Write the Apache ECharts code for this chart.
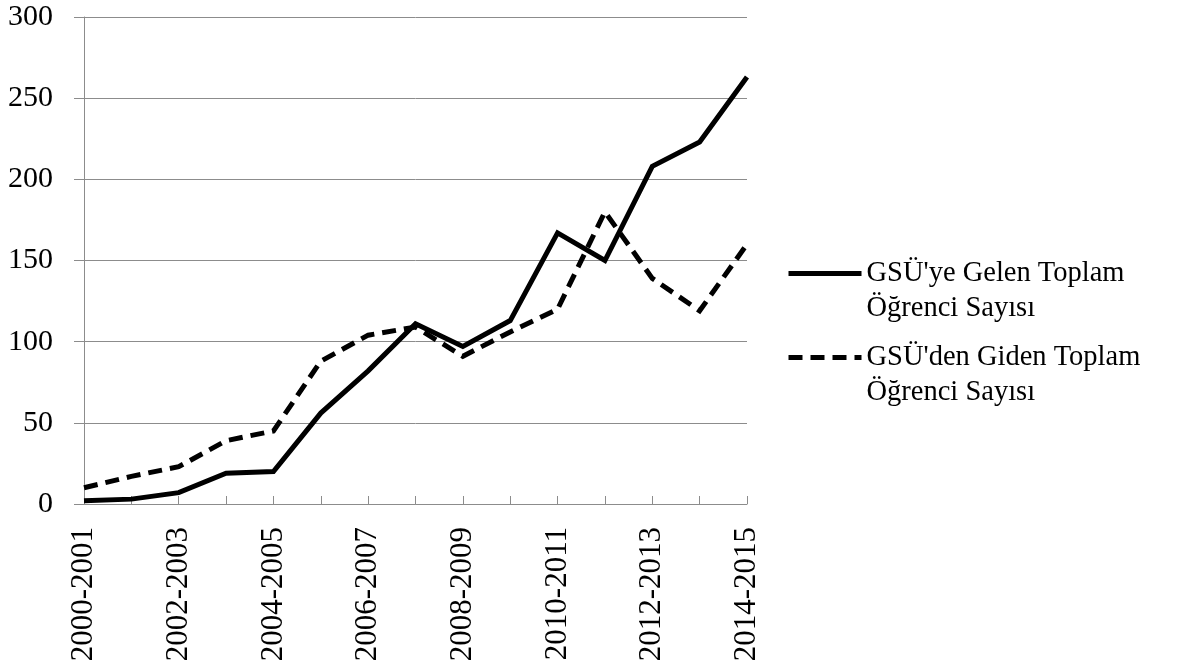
<!DOCTYPE html>
<html>
<head>
<meta charset="utf-8">
<script src="https://cdn.jsdelivr.net/npm/echarts@6/dist/echarts.min.js"></script>
<style>
html,body{margin:0;padding:0;background:#fff;}
#chart{width:1184px;height:671px;}
</style>
</head>
<body>
<div id="chart"></div>
<script>
const categories = ['2000-2001','2001-2002','2002-2003','2003-2004','2004-2005','2005-2006','2006-2007','2007-2008','2008-2009','2009-2010','2010-2011','2011-2012','2012-2013','2013-2014','2014-2015'];
const gelen = [2, 3, 7, 19, 20, 56, 82, 111, 97, 113, 167, 150, 208, 223, 263];
const giden = [10, 17, 23, 39, 45, 88, 104, 109, 91, 106, 120, 180, 139, 119, 160];
const seriesNames = ["GSÜ'ye Gelen Toplam\nÖğrenci Sayısı", "GSÜ'den Giden Toplam\nÖğrenci Sayısı"];

const FONT = "'Liberation Serif', 'Times New Roman', serif";
const GRAY = '#8c8c8c';
const LH = 35;

const chart = echarts.init(document.getElementById('chart'), null, {renderer: 'canvas'});

function legendFor(name, top) {
  return {
    data: [name],
    left: 786,
    top: top,
    padding: 0,
    itemWidth: 73,
    itemHeight: 10,
    selectedMode: false,
    formatter: function (n) { return ' \n' + n; },
    itemStyle: {opacity: 0},
    lineStyle: {width: 5},
    textStyle: {
      fontFamily: FONT,
      fontSize: 28.5,
      color: '#000',
      lineHeight: LH
    }
  };
}

chart.setOption({
  animation: false,
  backgroundColor: '#fff',
  grid: {left: 84, right: 437, top: 17, bottom: 167, containLabel: false},
  legend: [legendFor(seriesNames[0], 221), legendFor(seriesNames[1], 305)],
  xAxis: {
    type: 'category',
    data: categories,
    boundaryGap: false,
    axisLine: {lineStyle: {color: GRAY, width: 1}},
    axisTick: {inside: true, length: 8, interval: 0, lineStyle: {color: GRAY}},
    axisLabel: {
      interval: 1,
      rotate: 90,
      margin: 23,
      fontFamily: FONT,
      fontSize: 31,
      color: '#000'
    },
    splitLine: {show: false}
  },
  yAxis: {
    type: 'value',
    min: 0,
    max: 300,
    interval: 50,
    axisLine: {show: true, lineStyle: {color: GRAY, width: 1}},
    axisTick: {show: true, length: 10, lineStyle: {color: GRAY}},
    axisLabel: {margin: 31, fontFamily: FONT, fontSize: 30, color: '#000'},
    splitLine: {lineStyle: {color: GRAY, width: 1}}
  },
  series: [
    {
      name: seriesNames[0],
      type: 'line',
      data: gelen,
      symbol: 'none',
      lineStyle: {color: '#000', width: 5, type: 'solid', join: 'miter'},
      itemStyle: {color: '#000'}
    },
    {
      name: seriesNames[1],
      type: 'line',
      data: giden,
      symbol: 'none',
      lineStyle: {color: '#000', width: 5, type: [14, 8], join: 'miter'},
      itemStyle: {color: '#000'}
    }
  ]
});
</script>
</body>
</html>
